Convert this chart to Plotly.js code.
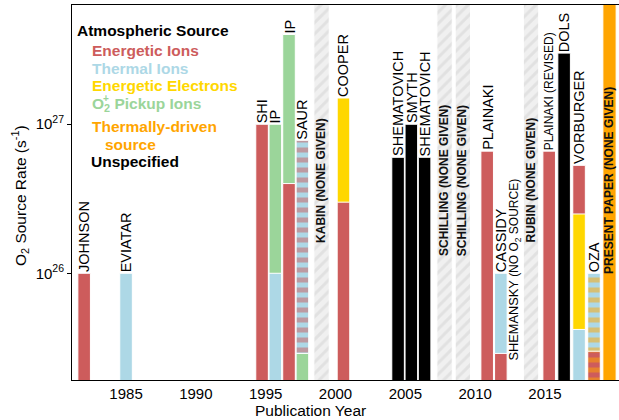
<!DOCTYPE html>
<html><head><meta charset="utf-8">
<script src="https://cdn.plot.ly/plotly-3.0.1.min.js"></script>
<style>html,body{margin:0;padding:0;background:#fff}</style>
</head><body><div id="chart" style="width:619px;height:420px"></div>
<script>
// ---------------- data ----------------
const studyNames = ['JOHNSON','EVIATAR','SHI','IP','IP','SAUR','COOPER','SHEMATOVICH','SMYTH','SHEMATOVICH','PLAINAKI','CASSIDY','PLAINAKI (REVISED)','DOLS','VORBURGER','OZA'];
const studyYears = [1982.0,1985.0,1994.74,1995.69,1996.67,1997.63,2000.57,2004.48,2005.43,2006.38,2010.86,2011.84,2015.30,2016.37,2017.44,2018.51];
// outer segment = total O2 source rate (s^-1)
const totalRate   = [1e26,1e26,1e27,1e27,4e27,7.8e26,1.5e27,6e26,1e27,6e26,6.6e26,1e26,6.6e26,3e27,5.3e26,1e26];
const totalSource = ['ions','thermal','ions','pickup','pickup','thermal','electrons','unspecified','unspecified','unspecified','ions','thermal','ions','unspecified','ions','thermal'];
const totalDash   = [null,null,null,null,null,'ions',null,null,null,null,null,null,null,null,null,'thermalDriven'];
// middle segment (cumulative top)
const midRate   = [null,null,null,1e26,4e26,2.9e25,3e26,null,null,null,null,2.9e25,null,null,2.5e26,3e25];
const midSource = [null,null,null,'thermal','ions','pickup','ions',null,null,null,null,'ions',null,null,'electrons','ions'];
const midDash   = [null,null,null,null,null,null,null,null,null,null,null,null,null,null,null,'thermalDriven'];
// inner segment (cumulative top)
const innerRate   = [null,null,null,null,null,null,null,null,null,null,null,null,null,null,4.2e25,null];
const innerSource = [null,null,null,null,null,null,null,null,null,null,null,null,null,null,'thermal',null];

const noneGivenNames = ['KABIN (NONE GIVEN)','SCHILLING (NONE GIVEN)','SCHILLING (NONE GIVEN)','RUBIN (NONE GIVEN)'];
const noneGivenYears = [1999.0,2007.81,2009.12,2014.0];
const presentNames = ['PRESENT PAPER (NONE GIVEN)'];
const presentYears = [2019.62];

const shemanskyName = 'SHEMANSKY <span style="font-size:12px">(NO O<sub>2</sub> SOURCE)</span>';
const shemanskyYear = 2012.84;
const shemanskyRate = 2.55e25;

const xTickYears = [1985,1990,1995,2000,2005,2010,2015];
const yTickVals = [1e26,1e27];
const yTickText = ['10<sup>26</sup>','10<sup>27</sup>'];

const legendTitle = 'Atmospheric Source';
const legendItems = ['Energetic Ions','Thermal Ions','Energetic Electrons','O<sub>2</sub> Pickup Ions','Thermally-driven','source','Unspecified'];
const legendKeys  = ['ions','thermal','electrons','pickup','thermalDriven','thermalDriven','unspecified'];

// ---------------- styling ----------------
const FONT = 'Liberation Sans, Arial, Helvetica, sans-serif';
const colors = {ions:'#CD5C5C', thermal:'#ADD8E6', electrons:'#FFD700', pickup:'#9BD59A', thermalDriven:'#FFA500', unspecified:'#000000'};
const FULL = 1e29;        // extends to top of axes (clipped)
const LABEL_MID = 4.2e26; // vertical centre of "NONE GIVEN" labels

const L = 72, R = 619, T = 5, B = 380;
const px = v => (v - L) / (R - L);
const py = v => (B - v) / (B - T);

function barTrace(idx, rates, color, dash) {
  const m = {color: color, line:{color:'#ffffff', width:1}};
  if (dash) m.pattern = {shape:'-', fgcolor: colors[dash], bgcolor: color, fillmode:'overlay', size:10, solidity:0.5};
  return {type:'bar', x: idx.map(i=>studyYears[i]), y: idx.map(i=>rates[i]), width:0.9,
    marker:m, hoverinfo:'skip', showlegend:false};
}
function layer(rates, sources, dashes) {
  const out = [];
  const plain = rates.map((v,i)=> (v!=null && !(dashes && dashes[i])) ? i : -1).filter(i=>i>=0);
  if (plain.length) {
    const t = barTrace(plain, rates, null, null);
    t.marker.color = plain.map(i=>colors[sources[i]]);
    out.push(t);
  }
  rates.forEach((v,i)=>{
    if (v!=null && dashes && dashes[i]) out.push(barTrace([i], rates, colors[sources[i]], dashes[i]));
  });
  return out;
}

const traces = [
  {type:'bar', x:noneGivenYears, y:noneGivenYears.map(()=>FULL), width:1.1,
   marker:{color:'#f0f0f0', line:{color:'#ffffff', width:1},
     pattern:{shape:'/', fgcolor:'#d2d2d2', bgcolor:'#f0f0f0', fillmode:'overlay', size:8, solidity:0.38}},
   hoverinfo:'skip', showlegend:false},
  {type:'bar', x:presentYears, y:presentYears.map(()=>FULL), width:0.95,
   marker:{color:colors.thermalDriven, line:{color:'#ffffff', width:1}},
   hoverinfo:'skip', showlegend:false}
].concat(layer(totalRate, totalSource, totalDash), layer(midRate, midSource, midDash), layer(innerRate, innerSource, null));

const ann = [];
studyNames.forEach((n,i)=>{
  ann.push({x:studyYears[i], y:Math.log10(totalRate[i]), xref:'x', yref:'y', text:n, textangle:-90,
    showarrow:false, xanchor:'center', yanchor:'bottom', borderpad:0,
    font:{family:FONT, size: n.indexOf('(REVISED)')>=0 ? 12 : 14.5, color:'#000'}});
});
ann.push({x:shemanskyYear, y:Math.log10(shemanskyRate), xref:'x', yref:'y', text:shemanskyName, textangle:-90,
  showarrow:false, xanchor:'center', yanchor:'bottom', borderpad:0, font:{family:FONT, size:12.8, color:'#000'}});
noneGivenNames.concat(presentNames).forEach((n,i)=>{
  const xv = i < noneGivenYears.length ? noneGivenYears[i] : presentYears[i-noneGivenYears.length];
  ann.push({x:xv, y:Math.log10(LABEL_MID), xref:'x', yref:'y', text:'<b>'+n+'</b>', textangle:-90,
    showarrow:false, xanchor:'center', yanchor:'middle', borderpad:0, font:{family:FONT, size:12, color:'#111'}});
});
// legend
ann.push({x:px(75), y:py(30.7), xref:'paper', yref:'paper', text:'<b>'+legendTitle+'</b>', showarrow:false,
  xanchor:'left', yanchor:'middle', font:{family:FONT, size:15.5, color:'#000'}});
const legY = [50, 68.3, 86, 104.3, 126.7, 145, 161];
const legX = [90, 90, 90, 90, 90, 103, 89];
legendItems.forEach((t,i)=>{
  ann.push({x:px(legX[i]), y:py(legY[i]), xref:'paper', yref:'paper', text:'<b>'+t+'</b>', showarrow:false,
    xanchor:'left', yanchor:'middle', font:{family:FONT, size:15.5, color:colors[legendKeys[i]]}});
});
ann.push({x:px(101.5), y:py(98), xref:'paper', yref:'paper', text:'<b>+</b>', showarrow:false,
  xanchor:'left', yanchor:'middle', borderpad:0, font:{family:FONT, size:10, color:colors.pickup}});
// axis titles
ann.push({x:px(310), y:py(410.5), xref:'paper', yref:'paper', text:'Publication Year', showarrow:false,
  xanchor:'center', yanchor:'middle', font:{family:FONT, size:15.5, color:'#000'}});
ann.push({x:px(20), y:py(196), xref:'paper', yref:'paper', text:'O<sub>2</sub> Source Rate (s<sup>-1</sup>)', textangle:-90,
  showarrow:false, xanchor:'center', yanchor:'middle', font:{family:FONT, size:15.5, color:'#000'}});

const layout = {
  width:619, height:420, margin:{l:L, r:619-R, t:T, b:420-B, pad:0},
  paper_bgcolor:'#ffffff', plot_bgcolor:'#ffffff',
  barmode:'overlay', bargap:0,
  font:{family:FONT, color:'#000'},
  xaxis:{range:[1981.13, 2020.3], tickvals:xTickYears, ticktext:xTickYears.map(String), ticks:'',
    showgrid:false, zeroline:false, showline:true, linecolor:'#000', linewidth:1, mirror:true,
    tickfont:{family:FONT, size:15, color:'#000'}, fixedrange:true},
  yaxis:{type:'log', range:[25.284, 27.80], tickvals:yTickVals, ticktext:yTickText, ticks:'outside', ticklen:4,
    tickcolor:'#000', showgrid:false, zeroline:false, showline:true, linecolor:'#000', linewidth:1, mirror:false,
    tickfont:{family:FONT, size:15, color:'#000'}, fixedrange:true},
  annotations: ann
};

Plotly.newPlot('chart', traces, layout, {staticPlot:true, displayModeBar:false});
</script></body></html>
